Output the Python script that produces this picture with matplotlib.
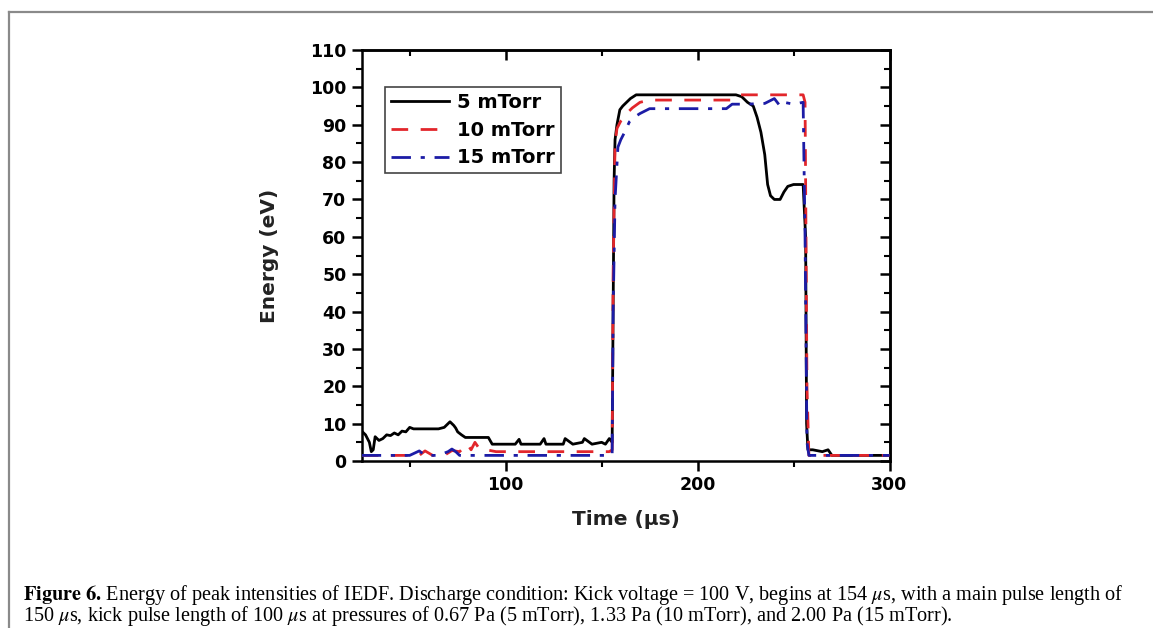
import numpy as np
import matplotlib
matplotlib.use("Agg")
import matplotlib.pyplot as plt
from matplotlib.lines import Line2D
from matplotlib.ticker import MultipleLocator

plt.rcParams['mathtext.fontset'] = 'stix'

# ---------------- data ----------------
t_5 = [25, 27, 29, 30, 31, 32, 34, 36, 38, 40, 42, 44, 46, 48, 50, 52, 55, 60, 65, 68,
       70, 71, 72, 73, 74, 75, 77, 79, 85, 91, 93, 100, 105, 107, 108, 112, 118, 120, 121,
       125, 130, 131, 135, 140, 141, 145, 150, 152, 154, 155.5, 156, 156.5, 157, 158,
       159.5, 161, 163, 165, 168, 180, 200, 220, 223, 226, 229, 231, 233, 235, 236.5,
       238, 240, 243, 245, 247, 250, 255, 256.3, 256.8, 257.5, 260, 265, 268, 270, 275,
       280, 300]
e_5 = [8, 7, 5, 2.5, 3, 6.5, 5.5, 6, 7, 6.8, 7.5, 7, 8, 7.8, 9, 8.6, 8.6, 8.6, 8.6, 9,
       10, 10.5, 10, 9.5, 8.8, 7.8, 7, 6.3, 6.3, 6.3, 4.5, 4.5, 4.5, 5.8, 4.5, 4.5, 4.5, 6,
       4.5, 4.5, 4.5, 6, 4.5, 5, 6, 4.5, 5, 4.5, 6, 5, 40, 75, 86, 90,
       94, 95, 96, 97, 98, 98, 98, 98, 97.5, 96, 95, 92, 88, 82, 74,
       71, 70, 70, 72, 73.5, 74, 74, 60, 10, 3, 3, 2.5, 3, 1.5, 1.5,
       1.5, 1.5]

t_10 = [25, 40, 55, 58, 62, 68, 72, 76, 80, 82, 84, 86, 88, 90, 95, 100, 105, 110, 120,
        130, 140, 148, 150, 154, 155.5, 156, 157, 158, 160, 163, 166, 170, 175, 200, 218,
        222, 240, 255, 256, 256.5, 257, 258, 300]
e_10 = [1.5, 1.5, 1.5, 2.7, 1.5, 1.5, 2.8, 2.5, 4.5, 3, 5, 3.5, 3, 3, 2.5, 2.5, 2.5, 2.5,
        2.5, 2.5, 2.5, 2.5, 2.5, 2.5, 3, 50, 85, 89, 91, 93, 94.5, 96, 96.6, 96.6, 96.6,
        98, 98, 98, 96, 60, 20, 1.5, 1.5]

t_15 = [25, 50, 55, 58, 65, 70, 72, 74, 76, 78, 80, 95, 100, 130, 150, 155, 155.5, 156,
        157, 158.5, 160, 162, 164.5, 167, 170, 175, 200, 215, 218, 225, 235, 240, 243,
        245, 250, 255, 256, 257, 258, 300]
e_15 = [1.5, 1.5, 2.7, 1.5, 1.5, 2.5, 3.2, 2.5, 1.5, 1.5, 1.5, 1.5, 1.5, 1.5, 1.5, 1.5,
        2, 40, 70, 84, 86, 88, 90.8, 92, 93, 94.3, 94.3, 94.3, 95.5, 95.5, 95.7, 97, 95,
        96, 95.5, 96, 60, 5, 1.5, 1.5]

labels = ["5 mTorr", "10 mTorr", "15 mTorr"]
x_ticks = [100, 200, 300]
y_ticks = list(range(0, 111, 10))

caption = ("$\\mathbf{Figure\\ 6.}\\,$Energy of peak intensities of IEDF. Discharge condition: "
           "Kick voltage = 100 V, begins at 154 $\\mu$s, with a main pulse length of\n"
           "150 $\\mu$s, kick pulse length of 100 $\\mu$s at pressures of 0.67 Pa (5 mTorr), "
           "1.33 Pa (10 mTorr), and 2.00 Pa (15 mTorr).")

# ---------------- figure ----------------
W, H = 1153, 628
fig = plt.figure(figsize=(W / 100, H / 100), dpi=100)

def fx(px):
    return px / W

def fy(py):
    return 1 - py / H

# page frame (top and left only)
fig.add_artist(Line2D([fx(9), 1.0], [fy(12), fy(12)], color="#8a8a8a", lw=1.6))
fig.add_artist(Line2D([fx(9), fx(9)], [fy(12), 0.0], color="#8a8a8a", lw=1.6))

ax_l, ax_r, ax_t, ax_b = 361.7, 889.5, 50, 461
ax = fig.add_axes([fx(ax_l), fy(ax_b), (ax_r - ax_l) / W, (ax_b - ax_t) / H])

lw = 2.0
ax.plot(t_5, e_5, color="black", lw=lw, ls="-", label=labels[0], zorder=3)
ax.plot(t_10, e_10, color="#e2262b", lw=lw, ls=(0, (6, 4.5)), label=labels[1], zorder=4)
ax.plot(t_15, e_15, color="#1c1ca6", lw=lw, ls=(0, (7, 3.5, 1.5, 3.5)), label=labels[2],
        zorder=5)

ax.set_xlim(25, 300)
ax.set_ylim(0, 110)
ax.set_xticks(x_ticks)
ax.set_yticks(y_ticks)
ax.xaxis.set_minor_locator(MultipleLocator(50))
ax.yaxis.set_minor_locator(MultipleLocator(5))

tick_font = dict(family="DejaVu Sans", weight="bold", size=12.5)
ax.set_xticklabels([str(v) for v in x_ticks], fontdict=tick_font)
ax.set_yticklabels([str(v) for v in y_ticks], fontdict=tick_font)
ax.tick_params(axis="both", which="major", direction="out", length=7, width=1.8,
               color="black", pad=4)
ax.tick_params(axis="both", which="minor", direction="out", length=4, width=1.5, color="black")

for s in ax.spines.values():
    s.set_linewidth(1.8)
    s.set_color("black")

# mirrored ticks on top and right pointing inward
secx = ax.secondary_xaxis("top")
secx.set_xticks(x_ticks)
secx.xaxis.set_minor_locator(MultipleLocator(50))
secx.tick_params(axis="x", which="major", direction="in", length=7, width=1.8, labeltop=False)
secx.tick_params(axis="x", which="minor", direction="in", length=4, width=1.5)
secx.spines["top"].set_linewidth(1.8)
secy = ax.secondary_yaxis("right")
secy.set_yticks(y_ticks)
secy.yaxis.set_minor_locator(MultipleLocator(5))
secy.tick_params(axis="y", which="major", direction="in", length=7, width=1.8, labelright=False)
secy.tick_params(axis="y", which="minor", direction="in", length=4, width=1.5)
secy.spines["right"].set_linewidth(1.8)

label_font = dict(family="DejaVu Sans", weight="bold", size=14.5, color="#222222")
ax.set_xlabel("Time (μs)", fontdict=label_font)
ax.set_ylabel("Energy (eV)", fontdict=label_font)
ax.xaxis.set_label_coords(0.5, (ax_b - 510) / (ax_b - ax_t))
ax.yaxis.set_label_coords((279 - ax_l) / (ax_r - ax_l), 0.5)

leg = ax.legend(loc="upper left",
                bbox_to_anchor=((385 - ax_l) / (ax_r - ax_l), (ax_b - 87) / (ax_b - ax_t)),
                borderaxespad=0, fancybox=False, framealpha=1, edgecolor="#444444",
                prop=dict(family="DejaVu Sans", weight="bold", size=14),
                handlelength=3.0, handletextpad=0.4, labelspacing=0.45,
                borderpad=0.3)
leg.get_frame().set_linewidth(1.2)

# ---------------- caption ----------------
fig.canvas.draw()
renderer = fig.canvas.get_renderer()

def draw_caption(size):
    return fig.text(fx(23), fy(583), caption, family="Liberation Serif", size=size,
                    va="top", ha="left", linespacing=0.84)

cap = draw_caption(12)
bb = cap.get_window_extent(renderer)
cap.remove()
size = 12 * (1121 - 23) / (bb.x1 - bb.x0)
draw_caption(size)

fig.savefig("out.png", dpi=100)
